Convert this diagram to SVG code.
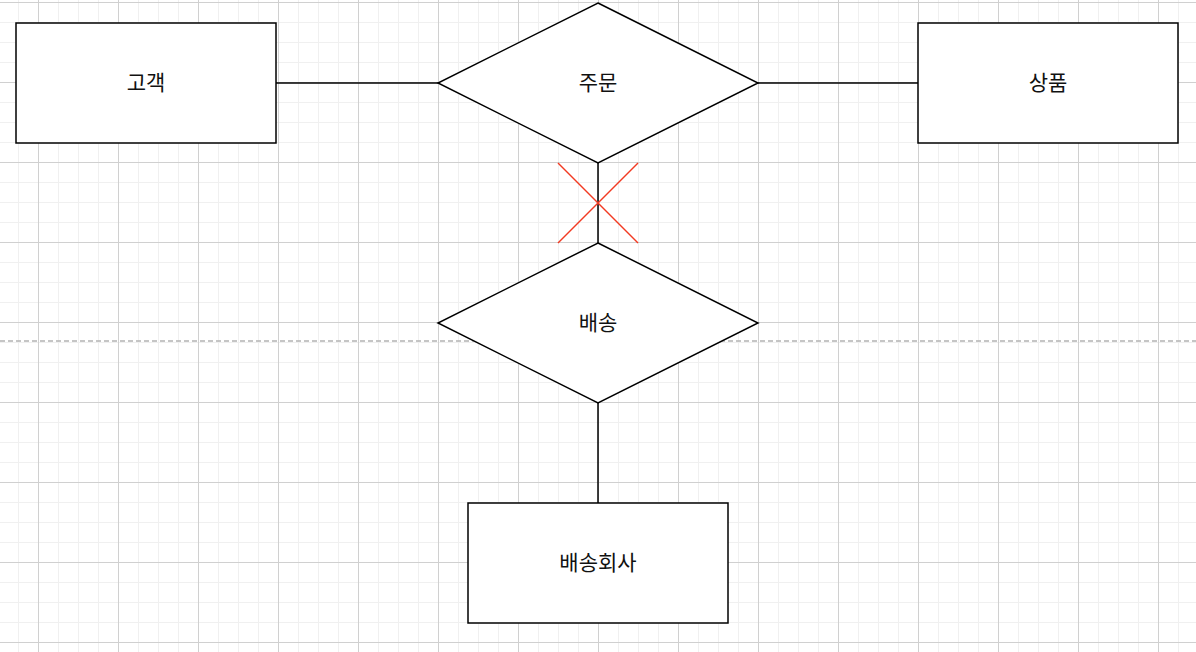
<svg xmlns="http://www.w3.org/2000/svg" width="1196" height="652" viewBox="0 0 1196 652">
  <defs>
    <pattern id="minor" x="-2" y="2" width="20" height="20" patternUnits="userSpaceOnUse">
      <path d="M0 0H20M0 0V20" fill="none" stroke="#f0f0f0" stroke-width="2"/>
    </pattern>
    <pattern id="major" x="38" y="2" width="80" height="80" patternUnits="userSpaceOnUse">
      <path d="M0 0.5H80M0.5 0V80" fill="none" stroke="#d0d0d0" stroke-width="1"/>
    </pattern>
    <style>
      .shape { fill: #ffffff; stroke: #000000; stroke-width: 1.5; }
      .edge { fill: none; stroke: #000000; stroke-width: 1.5; }
      .cross { fill: none; stroke: #f23a22; stroke-width: 1.5; }
      .label { font-family: "Noto Sans CJK KR", "Liberation Sans", sans-serif; font-size: 21px; font-weight: 400; fill: #111111; text-anchor: middle; dominant-baseline: central; }
    </style>
  </defs>
  <rect width="1196" height="652" fill="#ffffff"/>
  <rect width="1196" height="652" fill="url(#minor)"/>
  <rect width="1196" height="652" fill="url(#major)"/>
  <line x1="0" y1="341" x2="1196" y2="341" stroke="#b3b3b3" stroke-width="1.5" stroke-dasharray="5 3"/>

  <g id="connectors">
    <line class="edge" x1="276" y1="83" x2="438" y2="83"/>
    <line class="edge" x1="758" y1="83" x2="918" y2="83"/>
    <line class="edge" x1="598" y1="163" x2="598" y2="243"/>
    <line class="edge" x1="598" y1="403" x2="598" y2="503"/>
  </g>

  <g id="cross">
    <line class="cross" x1="558" y1="163" x2="638" y2="243"/>
    <line class="cross" x1="638" y1="163" x2="558" y2="243"/>
  </g>

  <g id="customer">
    <rect class="shape" x="16" y="23" width="260" height="120"/>
    <text class="label" x="146" y="81">고객</text>
  </g>
  <g id="order">
    <polygon class="shape" points="598,3 758,83 598,163 438,83"/>
    <text class="label" x="598" y="81">주문</text>
  </g>
  <g id="product">
    <rect class="shape" x="918" y="23" width="260" height="120"/>
    <text class="label" x="1048" y="81">상품</text>
  </g>
  <g id="delivery">
    <polygon class="shape" points="598,243 758,323 598,403 438,323"/>
    <text class="label" x="598" y="321">배송</text>
  </g>
  <g id="courier">
    <rect class="shape" x="468" y="503" width="260" height="120"/>
    <text class="label" x="598" y="561">배송회사</text>
  </g>
</svg>
